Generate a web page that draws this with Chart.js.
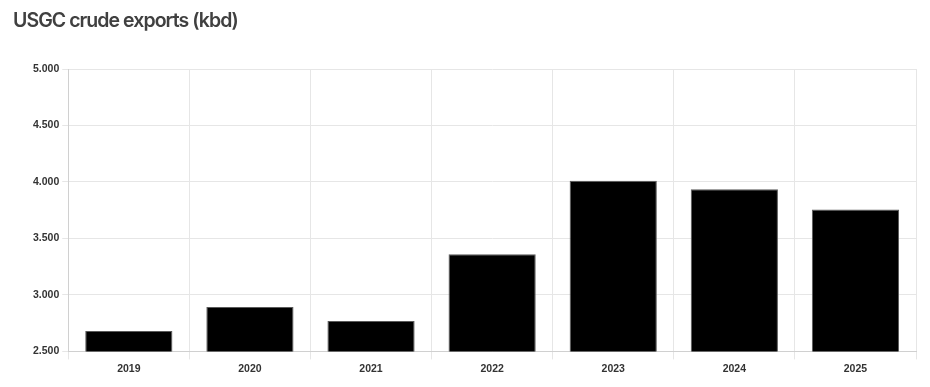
<!DOCTYPE html>
<html>
<head>
<meta charset="utf-8">
<script src="https://cdn.jsdelivr.net/npm/chart.js@4"></script>
<style>
  body { margin: 0; background: #fff; }
  #wrap { position: relative; width: 930px; height: 387px; }
  #titulo {
    position: absolute; left: 13px; top: 8px;
    font-family: Inter, "Noto Sans", sans-serif; font-weight: 600;
    font-size: 19.5px; letter-spacing: -0.95px; color: #404040;
  }
</style>
</head>
<body>
<div id="wrap">
  <div id="titulo">USGC crude exports (kbd)</div>
  <canvas id="grafico" width="930" height="387"></canvas>
</div>
<script>
// dados
const anos = ['2019', '2020', '2021', '2022', '2023', '2024', '2025'];
const exportacoes = [2680, 2893, 2769, 3360, 4010, 3936, 3756];
const eixoMin = 2500;
const eixoMax = 5000;
const passo = 500;

const fonteEixo = { family: 'Liberation Sans', size: 10.5, weight: 'bold' };

const grafico = document.getElementById('grafico');
new Chart(grafico, {
  type: 'bar',
  data: {
    labels: anos,
    datasets: [{
      label: 'USGC crude exports',
      data: exportacoes,
      backgroundColor: '#000000',
      borderColor: '#5a5a5a',
      borderWidth: 1
    }]
  },
  options: {
    responsive: false,
    animation: false,
    layout: { padding: { top: 69, right: 14, bottom: 9, left: 30 } },
    plugins: { legend: { display: false }, tooltip: { enabled: false } },
    scales: {
      x: {
        grid: { color: '#e6e6e6', tickLength: 8 },
        border: { color: '#d0d0d0' },
        ticks: { color: '#333', padding: 3, font: fonteEixo }
      },
      y: {
        min: eixoMin,
        max: eixoMax,
        grid: { color: '#e6e6e6', tickLength: 6 },
        border: { color: '#d0d0d0' },
        ticks: {
          stepSize: passo,
          color: '#333',
          padding: 3,
          font: fonteEixo,
          callback: v => String(v).replace(/^(\d)(\d{3})$/, '$1.$2')
        }
      }
    }
  }
});
</script>
</body>
</html>
